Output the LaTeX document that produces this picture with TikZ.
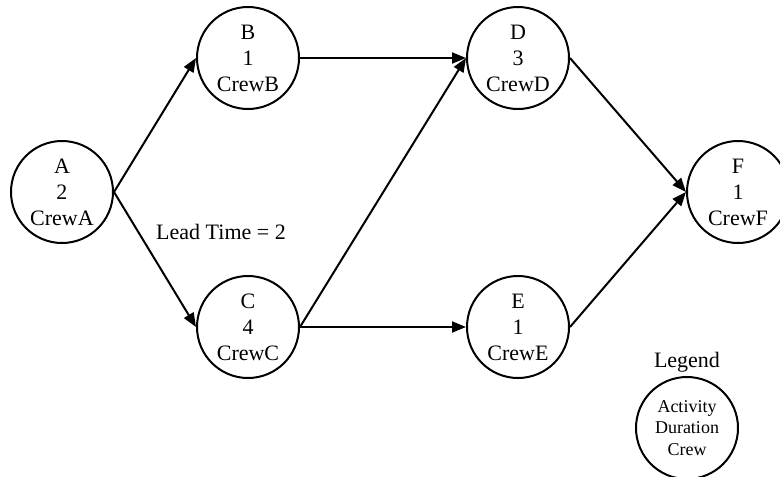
\documentclass[tikz,border=0pt]{standalone}
\usepackage{fontspec}
\setmainfont{Liberation Serif}
\usetikzlibrary{arrows.meta}
\begin{document}
\begin{tikzpicture}[x=1pt,y=-1pt,
  act/.style={circle,draw,line width=2pt,minimum size=102pt,inner sep=0pt,align=center,font=\fontsize{22}{26}\selectfont},
  leg/.style={act,font=\fontsize{18}{21.5}\selectfont},
  arr/.style={line width=2pt,-{Triangle[length=14pt,width=11pt]}},
  lbl/.style={font=\fontsize{22}{26}\selectfont,inner sep=0pt}]
\useasboundingbox (0,0) rectangle (780,477);
\node[act] (A) at (62,192) {A\\2\\CrewA};
\node[act] (B) at (248,58) {B\\1\\CrewB};
\node[act] (C) at (248,327) {C\\4\\CrewC};
\node[act] (D) at (518,58) {D\\3\\CrewD};
\node[act] (E) at (518,327) {E\\1\\CrewE};
\node[act] (F) at (738,192) {F\\1\\CrewF};
\node[leg] (L) at (687,428) {Activity\\Duration\\Crew};
\node[lbl] (LT) at (687,362) {Legend};
\node[lbl] (lead) at (221,232) {Lead Time = 2};
\draw[arr] (A.east) -- (B.west);
\draw[arr] (A.east) -- (C.west);
\draw[arr] (B.east) -- (D.west);
\draw[arr] (C.east) -- (D.west);
\draw[arr] (C.east) -- (E.west);
\draw[arr] (D.east) -- (F.west);
\draw[arr] (E.east) -- (F.west);
\end{tikzpicture}
\end{document}
